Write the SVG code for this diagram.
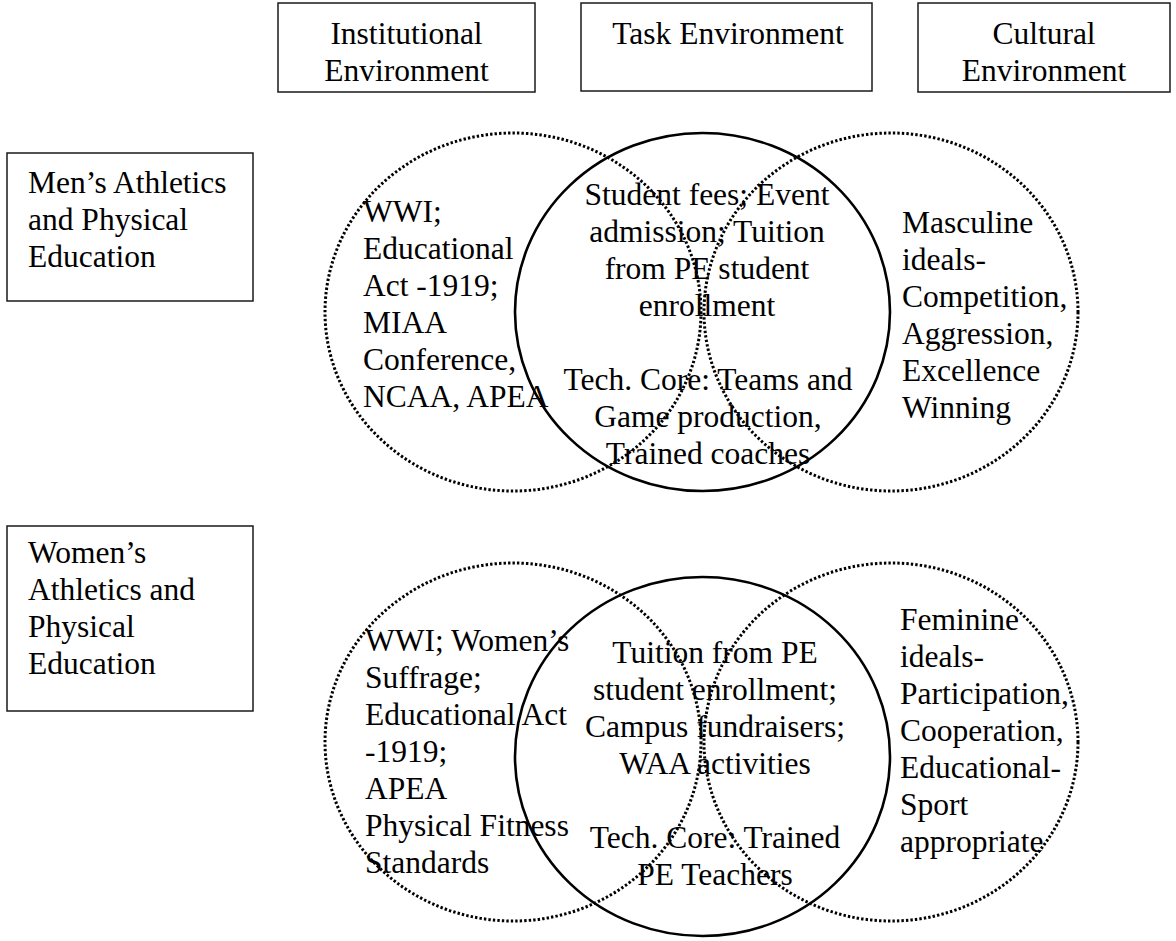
<svg xmlns="http://www.w3.org/2000/svg" width="1176" height="941" viewBox="0 0 1176 941">
<style>
.bg{fill:#fff}
.box{fill:#fff;stroke:#1a1a1a;stroke-width:1.5}
.dot{fill:none;stroke:#000;stroke-width:3;stroke-dasharray:2.4 2.1}
.sol{fill:none;stroke:#000;stroke-width:2.6}
text{font-family:"Liberation Serif","Times New Roman",serif;font-size:31.5px;fill:#000}
.m{text-anchor:middle}
</style>
<rect class="bg" x="0" y="0" width="1176" height="941"/>
<g id="header-institutional">
<rect class="box" x="278" y="3" width="257" height="89"/>
<text class="m" x="406.5" y="44">Institutional</text>
<text class="m" x="406.5" y="81">Environment</text>
</g>
<g id="header-task">
<rect class="box" x="581" y="3" width="291" height="88"/>
<text class="m" x="728" y="44">Task Environment</text>
</g>
<g id="header-cultural">
<rect class="box" x="918" y="3" width="252" height="89"/>
<text class="m" x="1044" y="44">Cultural</text>
<text class="m" x="1044" y="81">Environment</text>
</g>
<g id="row-men">
<rect class="box" x="7" y="153" width="246" height="148"/>
<text x="28" y="193">Men’s Athletics</text>
<text x="28" y="230">and Physical</text>
<text x="28" y="267">Education</text>
</g>
<g id="row-women">
<rect class="box" x="7" y="526" width="246" height="185"/>
<text x="28" y="563">Women’s</text>
<text x="28" y="600">Athletics and</text>
<text x="28" y="637">Physical</text>
<text x="28" y="674">Education</text>
</g>
<g id="men-institutional">
<ellipse class="dot" cx="513" cy="312" rx="188" ry="179"/>
<text x="363" y="222">WWI;</text>
<text x="363" y="259">Educational</text>
<text x="363" y="296">Act -1919;</text>
<text x="363" y="333">MIAA</text>
<text x="363" y="370">Conference,</text>
<text x="363" y="407">NCAA, APEA</text>
</g>
<g id="men-cultural">
<ellipse class="dot" cx="891" cy="312" rx="187" ry="179"/>
<text x="902" y="233">Masculine</text>
<text x="902" y="270">ideals-</text>
<text x="902" y="307">Competition,</text>
<text x="902" y="344">Aggression,</text>
<text x="902" y="381">Excellence</text>
<text x="902" y="418">Winning</text>
</g>
<g id="men-task">
<ellipse class="sol" cx="702.5" cy="312" rx="187.5" ry="179"/>
<text class="m" x="707" y="205">Student fees; Event</text>
<text class="m" x="707" y="242">admission; Tuition</text>
<text class="m" x="707" y="279">from PE student</text>
<text class="m" x="707" y="316">enrollment</text>
<text class="m" x="708" y="390">Tech. Core: Teams and</text>
<text class="m" x="708" y="427">Game production,</text>
<text class="m" x="708" y="464">Trained coaches</text>
</g>
<g id="women-institutional">
<ellipse class="dot" cx="513" cy="742" rx="188" ry="179"/>
<text x="365" y="651">WWI; Women’s</text>
<text x="365" y="688">Suffrage;</text>
<text x="365" y="725">Educational Act</text>
<text x="365" y="762">-1919;</text>
<text x="365" y="799">APEA</text>
<text x="365" y="836">Physical Fitness</text>
<text x="365" y="873">Standards</text>
</g>
<g id="women-cultural">
<ellipse class="dot" cx="891" cy="742" rx="187" ry="179"/>
<text x="900" y="630">Feminine</text>
<text x="900" y="667">ideals-</text>
<text x="900" y="704">Participation,</text>
<text x="900" y="741">Cooperation,</text>
<text x="900" y="778">Educational-</text>
<text x="900" y="815">Sport</text>
<text x="900" y="852">appropriate</text>
</g>
<g id="women-task">
<ellipse class="sol" cx="702.5" cy="756.5" rx="187.5" ry="179.5"/>
<text class="m" x="715" y="663">Tuition from PE</text>
<text class="m" x="715" y="700">student enrollment;</text>
<text class="m" x="715" y="737">Campus fundraisers;</text>
<text class="m" x="715" y="774">WAA activities</text>
<text class="m" x="715" y="848">Tech. Core: Trained</text>
<text class="m" x="715" y="885">PE Teachers</text>
</g>
<g id="connectors"></g>
</svg>
